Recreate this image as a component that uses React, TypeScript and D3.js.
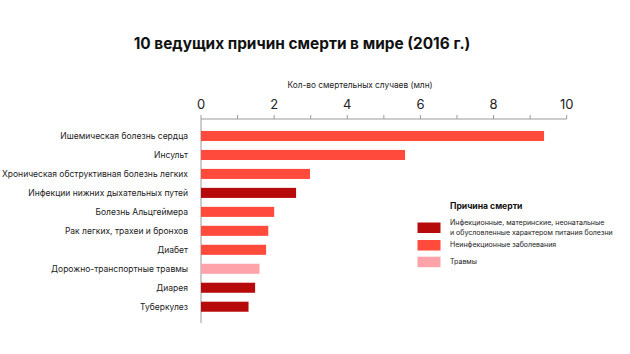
import React from 'react'
import * as d3 from 'd3'

// Причины смерти и число смертей (млн), 2016 г.
const causes = [
  'Ишемическая болезнь сердца',
  'Инсульт',
  'Хроническая обструктивная болезнь легких',
  'Инфекции нижних дыхательных путей',
  'Болезнь Альцгеймера',
  'Рак легких, трахеи и бронхов',
  'Диабет',
  'Дорожно-транспортные травмы',
  'Диарея',
  'Туберкулез',
]
const deaths = [9.38, 5.58, 2.98, 2.6, 2.0, 1.84, 1.78, 1.6, 1.48, 1.3]
const groups = ['noncomm', 'noncomm', 'noncomm', 'infect', 'noncomm', 'noncomm', 'noncomm', 'injury', 'infect', 'infect']

const groupKeys = ['infect', 'noncomm', 'injury']
const groupLabels = [
  ['Инфекционные, материнские, неонатальные', 'и обусловленные характером питания болезни'],
  ['Неинфекционные заболевания'],
  ['Травмы'],
]
const groupColors = ['#b70b0b', '#ff4a3c', '#ffa3ab']

const xTicks = [0, 2, 4, 6, 8, 10]
const xMinorTicks = [1, 3, 5, 7, 9]

const FONT = 'Inter, "Open Sans", sans-serif'

export default function App() {
  const width = 630
  const height = 354

  const x = d3.scaleLinear().domain([0, 10]).range([201, 566.7])
  const y = d3
    .scaleBand<string>()
    .domain(causes)
    .range([126.5, 316.2])
    .paddingInner(0.47)
    .paddingOuter(0.235)
  const color = d3.scaleOrdinal<string, string>().domain(groupKeys).range(groupColors)

  const axisY = 119

  return (
    <svg
      width={width}
      height={height}
      style={{ position: 'absolute', left: 0, top: 0, background: '#fff' }}
      fontFamily={FONT}
    >
      <text x={302} y={49} textAnchor="middle" fontSize={15.4} fontWeight={700} fill="#111">
        10 ведущих причин смерти в мире (2016 г.)
      </text>

      {/* axis title */}
      <text x={360} y={88} textAnchor="middle" fontSize={8.3} fill="#222">
        Кол-во смертельных случаев (млн)
      </text>

      {/* top axis */}
      <line x1={x(0)} x2={x(10)} y1={axisY} y2={axisY} stroke="#9a9a9a" strokeWidth={1} />
      {xTicks.concat(xMinorTicks).map((t) => (
        <line key={'t' + t} x1={x(t)} x2={x(t)} y1={axisY - 4} y2={axisY} stroke="#9a9a9a" />
      ))}
      {xTicks.map((t) => (
        <text key={'l' + t} x={x(t)} y={109} textAnchor="middle" fontSize={13} fill="#222">
          {t}
        </text>
      ))}
      <line x1={x(0)} x2={x(0)} y1={axisY} y2={323} stroke="#9a9a9a" strokeWidth={1} />

      {/* bars */}
      {causes.map((c, i) => (
        <g key={c}>
          <rect
            x={x(0)}
            y={y(c)}
            width={x(deaths[i]) - x(0)}
            height={y.bandwidth()}
            fill={color(groups[i])}
          />
          <text
            x={188}
            y={(y(c) as number) + y.bandwidth() / 2}
            dy="0.35em"
            textAnchor="end"
            fontSize={8.5}
            fill="#222"
          >
            {c}
          </text>
        </g>
      ))}

      {/* legend */}
      <text x={450} y={209} fontSize={8.6} fontWeight={700} fill="#111">
        Причина смерти
      </text>
      {groupKeys.map((g, i) => {
        const top = [222.5, 240, 256.7][i]
        const lines = groupLabels[i]
        return (
          <g key={g}>
            <rect x={417.5} y={top} width={23} height={10.5} fill={color(g)} />
            {lines.map((l, j) => (
              <text
                key={j}
                x={450}
                y={top + 5 + (j - (lines.length - 1) / 2) * 9.5}
                dy="0.35em"
                fontSize={7}
                fill="#222"
              >
                {l}
              </text>
            ))}
          </g>
        )
      })}
    </svg>
  )
}
